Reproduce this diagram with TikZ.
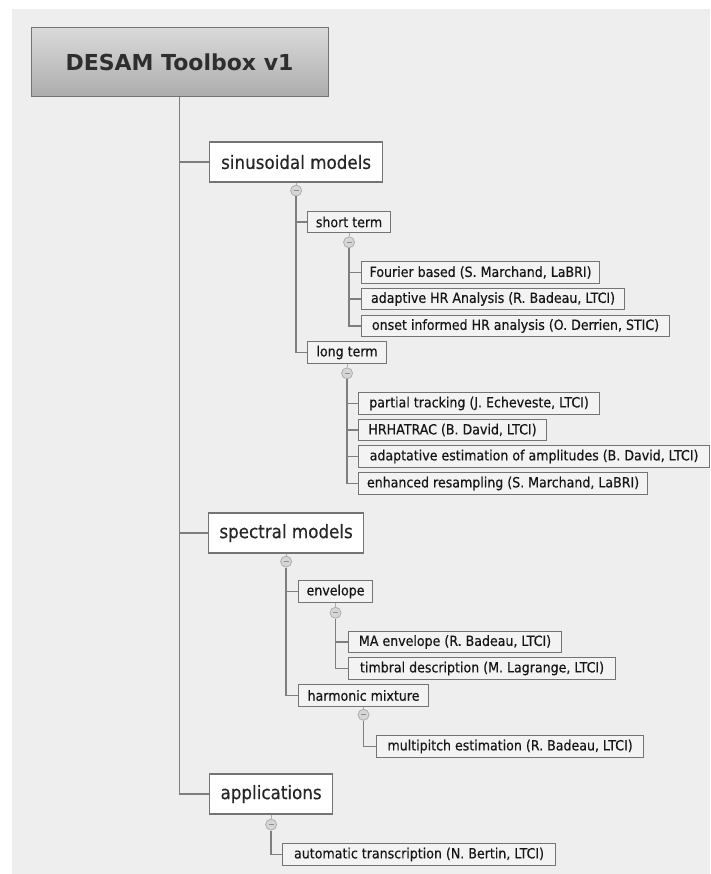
\documentclass[tikz,border=0pt]{standalone}
\usepackage{fontspec}
\setmainfont{DejaVu Sans}
\newfontfamily\condfam[FakeStretch=0.9,FakeBold=0.35]{DejaVu Sans}
\usetikzlibrary{calc}
\definecolor{bgc}{HTML}{EEEEEE}
\definecolor{boxline}{HTML}{747474}
\definecolor{leaffill}{HTML}{F3F3F3}
\definecolor{txt}{HTML}{161616}
\definecolor{linec}{HTML}{7E7E7E}
\definecolor{togfill}{HTML}{D6D6D6}
\definecolor{togline}{HTML}{ADADAD}
\definecolor{togdash}{HTML}{8E8E8E}
\definecolor{roottop}{HTML}{DADADA}
\definecolor{rootbot}{HTML}{ACACAC}
\newcommand{\leaffont}{\condfam\fontsize{14}{16}\selectfont}
\newcommand{\lvlfont}{\condfam\fontsize{18.6}{22}\selectfont}
\newcommand{\rootfont}{\fontsize{22}{26}\selectfont\bfseries}
\begin{document}
\begin{tikzpicture}[x=1pt,y=-1pt,
  rootbox/.style={draw=boxline, line width=1pt, top color=roottop, bottom color=rootbot,
    minimum width=297, minimum height=69, inner sep=0, font=\rootfont, text=black!82},
  lvlbox/.style={draw=boxline, line width=1.2pt, fill=white, anchor=west,
    minimum height=40, inner xsep=9, inner ysep=0, font=\lvlfont, text=black!85},
  leafbox/.style={draw=boxline, line width=1.1pt, fill=leaffill, anchor=west,
    minimum height=21.5, inner xsep=5, inner ysep=0, font=\leaffont, text=txt},
  toggle/.style={circle, minimum size=11, inner sep=0, fill=togfill, draw=togline, line width=0.8pt,
    path picture={\draw[togdash, line width=1pt] ([xshift=-2.5pt]path picture bounding box.center) -- ([xshift=2.5pt]path picture bounding box.center);}},
  mainline/.style={draw=linec, line width=1.9pt},
  subline/.style={draw=linec, line width=1.5pt},
  stub/.style={draw=togline, line width=1pt}
]
\useasboundingbox (0,0) rectangle (710,874);
\fill[white] (0,0) rectangle (710,874);
\fill[bgc] (12,9) rectangle (710,874);

% nodes
\node[rootbox] (root) at (179.5,62.5) {DESAM Toolbox v1};

\node[lvlbox, minimum width=173] (sin) at (209,162) {sinusoidal models};
\node[leafbox, minimum width=83] (short) at (307,222) {short term};
\node[leafbox, minimum width=238] (four) at (361,272.5) {Fourier based (S. Marchand, LaBRI)};
\node[leafbox, minimum width=263] (ahr) at (361,299) {adaptive HR Analysis (R. Badeau, LTCI)};
\node[leafbox, minimum width=308] (onset) at (361,326) {onset informed HR analysis (O. Derrien, STIC)};
\node[leafbox, minimum width=79] (long) at (307,352.5) {long term};
\node[leafbox, minimum width=241] (part) at (358,403.5) {partial tracking (J. Echeveste, LTCI)};
\node[leafbox, minimum width=188] (hrh) at (358,430) {HRHATRAC (B. David, LTCI)};
\node[leafbox, minimum width=351] (adapt) at (358,456.5) {adaptative estimation of amplitudes (B. David, LTCI)};
\node[leafbox, minimum width=289] (enh) at (358,483.5) {enhanced resampling (S. Marchand, LaBRI)};

\node[lvlbox, minimum width=155] (spec) at (208,533) {spectral models};
\node[leafbox, minimum width=74] (env) at (298,591.5) {envelope};
\node[leafbox, minimum width=213] (ma) at (348,642) {MA envelope (R. Badeau, LTCI)};
\node[leafbox, minimum width=267] (timb) at (348,668.5) {timbral description (M. Lagrange, LTCI)};
\node[leafbox, minimum width=130] (harm) at (298,695.5) {harmonic mixture};
\node[leafbox, minimum width=267] (multi) at (376,746.5) {multipitch estimation (R. Badeau, LTCI)};

\node[lvlbox, minimum width=123] (app) at (209,794) {applications};
\node[leafbox, minimum width=273] (auto) at (282,854.5) {automatic transcription (N. Bertin, LTCI)};

% toggles
\node[toggle] (t1) at ($(sin.south)+(0,8)$) {};
\node[toggle] (t2) at ($(short.south)+(0,9)$) {};
\node[toggle] (t3) at ($(long.south)+(0,9.5)$) {};
\node[toggle] (t4) at ($(spec.south)+(0,8)$) {};
\node[toggle] (t5) at ($(env.south)+(0,10)$) {};
\node[toggle] (t6) at ($(harm.south)+(0,8)$) {};
\node[toggle] (t7) at ($(app.south)+(0,10)$) {};

% stubs from boxes to toggles
\foreach \p/\t in {sin/t1, short/t2, long/t3, spec/t4, env/t5, harm/t6, app/t7}
  \draw[stub] (\p.south) -- (\t.north);

% main trunk
\draw[mainline] (root.south) |- (app.west);
\foreach \c in {sin, spec} \draw[mainline] (root.south |- \c.west) -- (\c.west);

% sub connectors: one vertical per parent, to its last child
\draw[subline] (t1.south) |- (long.west);
\draw[subline] (t1.south |- short.west) -- (short.west);
\draw[subline] (t2.south) |- (onset.west);
\foreach \c in {four, ahr} \draw[subline] (t2.south |- \c.west) -- (\c.west);
\draw[subline] (t3.south) |- (enh.west);
\foreach \c in {part, hrh, adapt} \draw[subline] (t3.south |- \c.west) -- (\c.west);
\draw[subline] (t4.south) |- (harm.west);
\draw[subline] (t4.south |- env.west) -- (env.west);
\draw[subline] (t5.south) |- (timb.west);
\draw[subline] (t5.south |- ma.west) -- (ma.west);
\draw[subline] (t6.south) |- (multi.west);
\draw[subline] (t7.south) |- (auto.west);
\end{tikzpicture}
\end{document}
